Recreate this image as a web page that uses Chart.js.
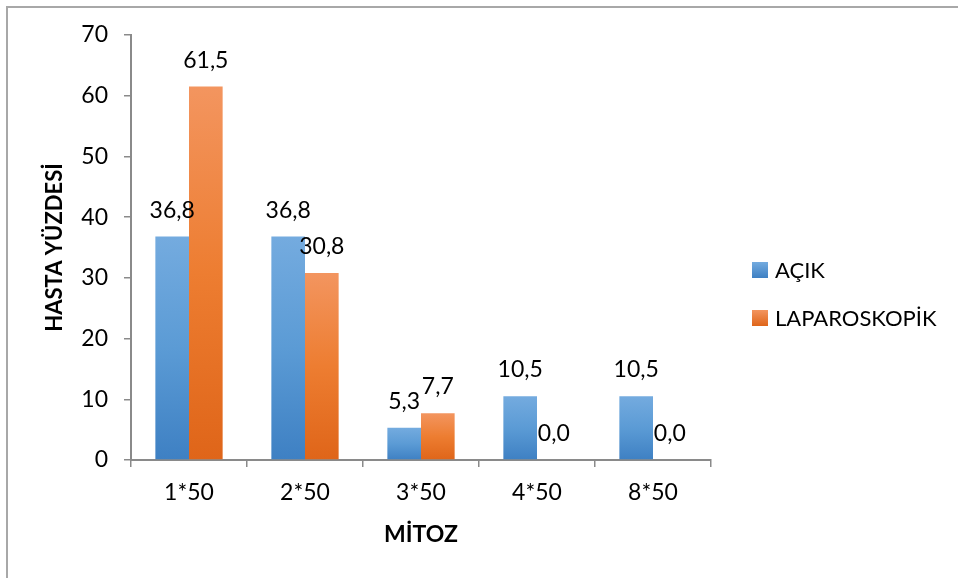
<!DOCTYPE html>
<html>
<head>
<meta charset="utf-8">
<script src="https://cdn.jsdelivr.net/npm/chart.js@4/dist/chart.umd.min.js"></script>
<style>
  html, body { margin: 0; padding: 0; background: #fff; }
  #wrap { width: 958px; height: 578px; }
</style>
</head>
<body>
<div id="wrap"><canvas id="c" width="958" height="578"></canvas></div>
<script>
// Mitosis groups and patient percentages per surgery type
const categories = ['1*50', '2*50', '3*50', '4*50', '8*50'];
const acikValues = [36.8, 36.8, 5.3, 10.5, 10.5];
const laparoskopikValues = [61.5, 30.8, 7.7, 0.0, 0.0];
const seriesNames = ['AÇIK', 'LAPAROSKOPİK'];
const yTickValues = [0, 10, 20, 30, 40, 50, 60, 70];

const FONT = 'Lato, "Open Sans", sans-serif';
const blueStops = ['#74abdf', '#5b9bd5', '#3e80c3'];
const orangeStops = ['#f3955f', '#ed7d31', '#df6519'];

// Vertical gradient per bar, light at the top and darker at the base
function barFill(stops) {
  return (ctx) => {
    const chart = ctx.chart;
    const y = chart.scales && chart.scales.y;
    if (!chart.chartArea || !y || ctx.type !== 'data') return stops[1];
    const top = y.getPixelForValue(ctx.raw);
    const base = y.getPixelForValue(0);
    if (base - top < 1) return stops[1];
    const g = chart.ctx.createLinearGradient(0, top, 0, base);
    g.addColorStop(0, stops[0]);
    g.addColorStop(0.5, stops[1]);
    g.addColorStop(1, stops[2]);
    return g;
  };
}

const fmt = (v) => v.toFixed(1).replace('.', ',');

// Outer frame around the chart
const frame = {
  id: 'frame',
  beforeDraw(chart) {
    const c = chart.ctx;
    c.save();
    c.fillStyle = '#fff';
    c.fillRect(0, 0, chart.width, chart.height);
    c.strokeStyle = '#a8a8a8';
    c.lineWidth = 2;
    c.strokeRect(7, 7, chart.width + 20, chart.height + 20);
    c.restore();
  }
};

// Value labels above each bar
const valueLabels = {
  id: 'valueLabels',
  afterDatasetsDraw(chart) {
    const c = chart.ctx;
    c.save();
    c.font = '23px ' + FONT;
    c.fillStyle = '#000';
    c.textAlign = 'center';
    c.textBaseline = 'alphabetic';
    chart.data.datasets.forEach((ds, i) => {
      chart.getDatasetMeta(i).data.forEach((bar, j) => {
        c.fillText(fmt(ds.data[j]), bar.x, bar.y - 19);
      });
    });
    c.restore();
  }
};

// Legend on the right with square swatches
const sideLegend = {
  id: 'sideLegend',
  afterDraw(chart) {
    const c = chart.ctx;
    c.save();
    c.font = '22px ' + FONT;
    c.textBaseline = 'middle';
    c.textAlign = 'left';
    const swatches = [blueStops, orangeStops];
    chart.data.datasets.forEach((ds, i) => {
      const cy = 270 + i * 48;
      const g = c.createLinearGradient(0, cy - 8, 0, cy + 8);
      g.addColorStop(0, swatches[i][0]);
      g.addColorStop(1, swatches[i][2]);
      c.fillStyle = g;
      c.fillRect(752, cy - 8, 16, 16);
      c.fillStyle = '#000';
      c.fillText(ds.label, 775, cy + 1);
    });
    c.restore();
  }
};

new Chart(document.getElementById('c'), {
  type: 'bar',
  data: {
    labels: categories,
    datasets: [
      { label: seriesNames[0], data: acikValues, backgroundColor: barFill(blueStops), borderWidth: 0 },
      { label: seriesNames[1], data: laparoskopikValues, backgroundColor: barFill(orangeStops), borderWidth: 0 }
    ]
  },
  options: {
    responsive: false,
    animation: false,
    devicePixelRatio: 1,
    categoryPercentage: 0.58,
    barPercentage: 1.0,
    layout: { padding: { top: 35, right: 247, bottom: 0, left: 0 } },
    plugins: { legend: { display: false }, tooltip: { enabled: false } },
    scales: {
      x: {
        grid: { display: true, drawOnChartArea: false, drawTicks: true, tickLength: 7, color: '#8a8a8a', lineWidth: 1.5, offset: true },
        border: { color: '#8a8a8a', width: 2 },
        ticks: { font: { family: FONT, size: 23 }, color: '#000', padding: 12 },
        title: { display: true, text: 'MİTOZ', color: '#000', font: { family: FONT, size: 23, weight: 'bold' }, padding: { top: 0, bottom: 30 } },
        afterFit(s) { s.height = 118; }
      },
      y: {
        min: 0,
        max: 70,
        grid: { display: true, drawOnChartArea: false, drawTicks: true, tickLength: 7, color: '#8a8a8a', lineWidth: 1.5 },
        border: { color: '#8a8a8a', width: 2 },
        ticks: { stepSize: 10, font: { family: FONT, size: 23 }, color: '#000', padding: 16 },
        afterBuildTicks(s) { s.ticks = yTickValues.map(v => ({ value: v })); },
        title: { display: true, text: 'HASTA YÜZDESİ', color: '#000', font: { family: FONT, size: 22, weight: 'bold' }, padding: { top: 42, bottom: 0 } },
        afterFit(s) { s.width = 131; }
      }
    }
  },
  plugins: [frame, valueLabels, sideLegend]
});
</script>
</body>
</html>
